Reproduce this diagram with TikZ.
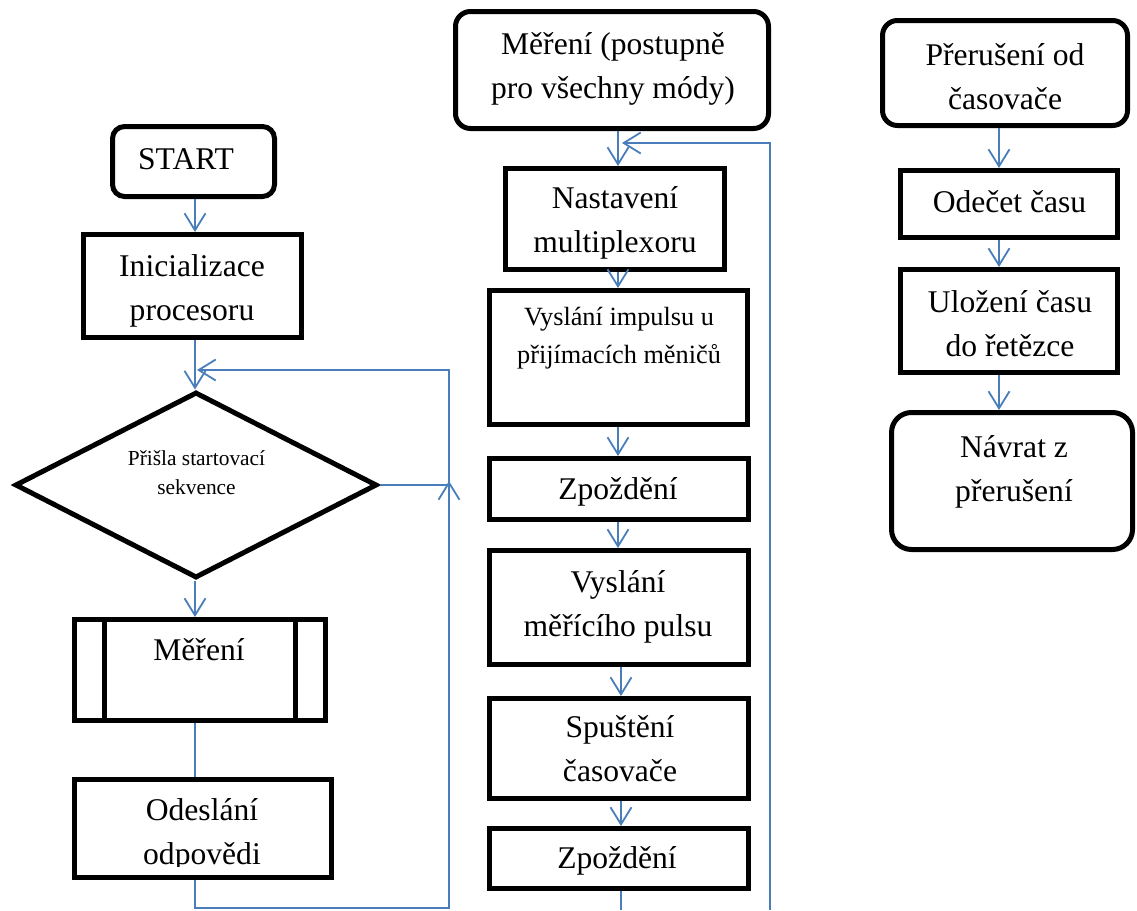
\documentclass[tikz,border=0pt]{standalone}
\usepackage{fontspec}
\setmainfont{Liberation Serif}
\usetikzlibrary{shapes.geometric,arrows.meta}
\definecolor{flow}{RGB}{74,126,187}
\tikzset{
  box/.style={draw, line width=5pt, inner sep=0pt},
  rbox/.style={box, rounded corners=#1},
  lbl/.style={inner sep=0pt, align=center, anchor=north, font=\fontsize{31.6}{44}\selectfont},
  lblm/.style={lbl, font=\fontsize{26.3}{38}\selectfont},
  lbls/.style={lbl, font=\fontsize{21.4}{29}\selectfont},
  flowline/.style={draw=flow, line width=1.8pt},
  arr/.style={flowline, -{Straight Barb[length=17pt,width=21pt]}}
}
\begin{document}
\begin{tikzpicture}[x=1pt,y=-1pt]
\useasboundingbox (0,0) rectangle (1137,910);

% ---------- left column ----------
\node[rbox=12pt, minimum width=162pt, minimum height=70pt] (start) at (193.5,161.5) {};
\node[box, minimum width=218pt, minimum height=103pt] (init) at (192.5,286) {};
\node[box, diamond, minimum width=362pt, minimum height=186pt] (dia) at (196,485) {};
\node[box, minimum width=251pt, minimum height=101pt] (mer) at (200,670) {};
\node[box, minimum width=257pt, minimum height=98pt] (ode) at (203,828.5) {};
\draw[line width=5pt] ([xshift=32pt]mer.north west) -- ([xshift=32pt]mer.south west);
\draw[line width=5pt] ([xshift=-33pt]mer.north east) -- ([xshift=-33pt]mer.south east);

\node[lbl] (tstart) at (186,138.2) {\strut START};
\node[lbl] (tinit) at (192,245.2) {\strut Inicializace\\\strut procesoru};
\node[lbls] (tdia) at (196.5,444.7) {\strut Přišla startovací\\\strut sekvence};
\node[lbl] (tmer) at (199,629.2) {\strut Měření};
\begin{scope}
  \clip (ode.north west) rectangle (334,866);
  \node[lbl] (tode) at (202,789.2) {\strut Odeslání\\\strut odpovědi};
\end{scope}

\coordinate (xl) at (195,0);
\coordinate (ltop) at (449,370);
\coordinate (lbot) at (449,908);
\draw[arr] (start.south -| xl) -- (init.north -| xl);
\draw[arr] (init.south -| xl) -- (dia.north -| xl);
\draw[arr] (dia.south -| xl) -- (mer.north -| xl);
\draw[flowline] (mer.south -| xl) -- (ode.north -| xl);
\draw[arr] (dia.east) -| (ltop) -- ([xshift=2pt]ltop -| xl);
\draw[arr] (ode.south -| xl) |- (lbot) -- ([yshift=4pt]lbot |- dia.east);

% ---------- middle column ----------
\node[rbox=15pt, minimum width=313pt, minimum height=117pt] (mtop) at (612,70) {};
\node[box, minimum width=219pt, minimum height=101pt] (nast) at (615,219) {};
\node[box, minimum width=258pt, minimum height=134pt] (vimp) at (618.5,357.5) {};
\node[box, minimum width=259pt, minimum height=61pt] (zp1) at (619,489) {};
\node[box, minimum width=259pt, minimum height=114pt] (vmer) at (619,607.5) {};
\node[box, minimum width=259pt, minimum height=100pt] (spu) at (619,748.5) {};
\node[box, minimum width=259pt, minimum height=60pt] (zp2) at (619,858.5) {};

\node[lbl] (tmtop) at (613,23.2) {\strut Měření (postupně\\\strut pro všechny módy)};
\node[lbl] (tnast) at (615,177.2) {\strut Nastavení\\\strut multiplexoru};
\node[lblm] (tvimp) at (619,298.4) {\strut Vyslání impulsu u\\\strut přijímacích měničů};
\node[lbl] (tzp1) at (618,468.2) {\strut Zpoždění};
\node[lbl] (tvmer) at (618,561.2) {\strut Vyslání\\\strut měřícího pulsu};
\node[lbl] (tspu) at (620,706.2) {\strut Spuštění\\\strut časovače};
\node[lbl] (tzp2) at (617,837.2) {\strut Zpoždění};

\coordinate (xm1) at (618,0);
\coordinate (xm2) at (621,0);
\coordinate (mlt) at (770,143);
\coordinate (mlb) at (770,910);
\coordinate (mb) at (621,910);
\draw[arr] (mtop.south -| xm1) -- (nast.north -| xm1);
\draw[arr] (nast.south -| xm1) -- (vimp.north -| xm1);
\draw[arr] (vimp.south -| xm1) -- (zp1.north -| xm1);
\draw[arr] (zp1.south -| xm1) -- (vmer.north -| xm1);
\draw[arr] (vmer.south -| xm2) -- (spu.north -| xm2);
\draw[arr] (spu.south -| xm2) -- (zp2.north -| xm2);
\draw[flowline] (zp2.south -| mb) -- (mb);
\draw[arr] (mlb) -- (mlt) -- ([xshift=4pt]mlt -| xm1);

% ---------- right column ----------
\node[rbox=15pt, minimum width=245pt, minimum height=105pt] (prer) at (1005,73) {};
\node[box, minimum width=217pt, minimum height=67pt] (odec) at (1009,204) {};
\node[box, minimum width=217pt, minimum height=103pt] (ulo) at (1009,321) {};
\node[rbox=20pt, minimum width=241pt, minimum height=137pt] (navr) at (1012,481) {};

\node[lbl] (tprer) at (1005,34.2) {\strut Přerušení od\\\strut časovače};
\node[lbl] (todec) at (1009.5,181.2) {\strut Odečet času};
\node[lbl] (tulo) at (1010,281.2) {\strut Uložení času\\\strut do řetězce};
\node[lbl] (tnavr) at (1014,426.2) {\strut Návrat z\\\strut přerušení};

\coordinate (xr) at (999,0);
\draw[arr] (prer.south -| xr) -- (odec.north -| xr);
\draw[arr] (odec.south -| xr) -- (ulo.north -| xr);
\draw[arr] (ulo.south -| xr) -- (navr.north -| xr);
\end{tikzpicture}
\end{document}
